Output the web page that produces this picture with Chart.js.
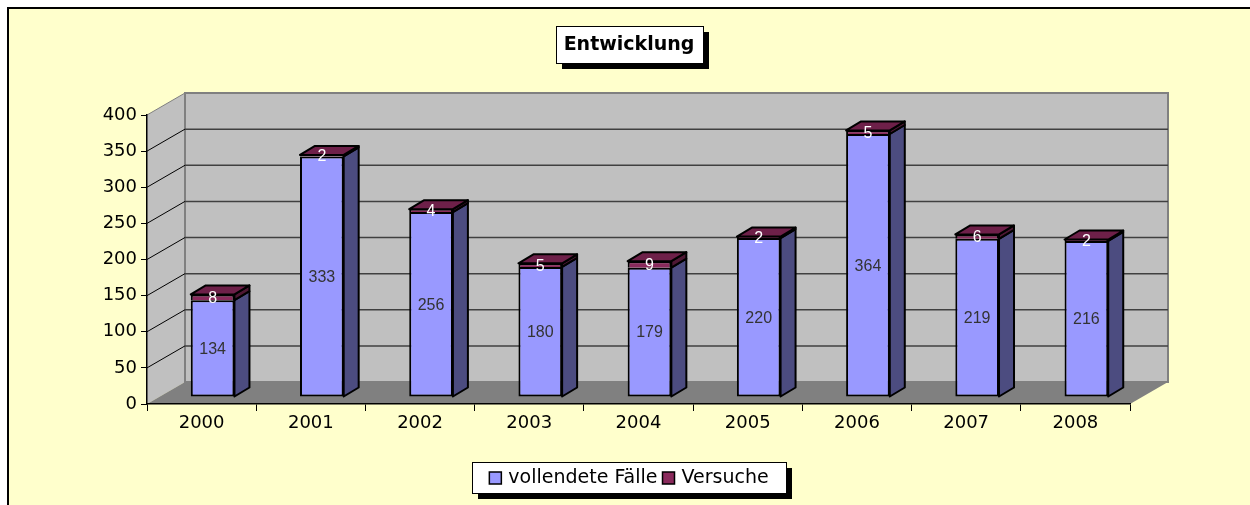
<!DOCTYPE html>
<html>
<head>
<meta charset="utf-8">
<script src="https://cdn.jsdelivr.net/npm/chart.js@4.4.1/dist/chart.umd.min.js"></script>
<style>
  html, body { margin: 0; padding: 0; background: #fff; }
</style>
</head>
<body>
<canvas id="chart" width="1250" height="505"></canvas>
<script>
// data
const years = ['2000', '2001', '2002', '2003', '2004', '2005', '2006', '2007', '2008'];
const completed = [134, 333, 256, 180, 179, 220, 364, 219, 216];
const attempts = [8, 2, 4, 5, 9, 2, 5, 6, 2];
const yTicks = [0, 50, 100, 150, 200, 250, 300, 350, 400];
const seriesNames = ['vollendete Fälle', 'Versuche'];
const chartTitle = 'Entwicklung';

// colours of the faces (front, side, top) per series
const faces = [
  { front: '#9999ff', side: '#4c4c80', top: '#7a7ad0', label: '#333333' },
  { front: '#8a2a5c', side: '#4e1834', top: '#6e2049', label: '#ffffff' },
];

const WALL = { dx: 38, dy: -22 };   // depth of the back wall
const SHIFT = { dx: 11, dy: -7 };   // bars sit half way into the box
const DEPTH = { dx: 15, dy: -9 };   // depth of one bar

const excel3d = {
  id: 'excel3d',
  beforeDraw(chart) {
    const ctx = chart.ctx;
    const { left, right, top, bottom } = chart.chartArea;
    const y = chart.scales.y;
    ctx.save();
    ctx.fillStyle = '#ffffff';
    ctx.fillRect(0, 0, chart.width, chart.height);
    ctx.fillStyle = '#ffffcc';
    ctx.fillRect(8, 8, chart.width - 8, chart.height - 8);
    ctx.strokeStyle = '#000';
    ctx.lineWidth = 2;
    ctx.beginPath();
    ctx.moveTo(8, chart.height);
    ctx.lineTo(8, 8);
    ctx.lineTo(chart.width, 8);
    ctx.stroke();

    // side wall
    ctx.fillStyle = '#c0c0c0';
    ctx.beginPath();
    ctx.moveTo(left, top);
    ctx.lineTo(left + WALL.dx, top + WALL.dy);
    ctx.lineTo(left + WALL.dx, bottom + WALL.dy);
    ctx.lineTo(left, bottom);
    ctx.closePath();
    ctx.fill();
    // back wall
    ctx.fillRect(left + WALL.dx, top + WALL.dy, right - left, bottom - top);
    ctx.strokeStyle = '#808080';
    ctx.lineWidth = 2;
    ctx.strokeRect(left + WALL.dx, top + WALL.dy, right - left, bottom - top);
    // floor
    ctx.fillStyle = '#808080';
    ctx.beginPath();
    ctx.moveTo(left, bottom);
    ctx.lineTo(left + WALL.dx, bottom + WALL.dy);
    ctx.lineTo(right + WALL.dx, bottom + WALL.dy);
    ctx.lineTo(right, bottom);
    ctx.closePath();
    ctx.fill();
    ctx.strokeStyle = '#808080';
    ctx.lineWidth = 1;
    ctx.beginPath();
    ctx.moveTo(left, top);
    ctx.lineTo(left + WALL.dx, top + WALL.dy);
    ctx.stroke();

    // gridlines on side and back walls
    yTicks.forEach(v => {
      if (v === 0 || v === 400) return;
      const py = y.getPixelForValue(v);
      ctx.strokeStyle = '#000';
      ctx.lineWidth = 1;
      ctx.beginPath();
      ctx.moveTo(left, py);
      ctx.lineTo(left + WALL.dx, py + WALL.dy);
      ctx.stroke();
      ctx.strokeStyle = '#404040';
      ctx.lineWidth = 1.5;
      ctx.beginPath();
      ctx.moveTo(left + WALL.dx, py + WALL.dy);
      ctx.lineTo(right + WALL.dx, py + WALL.dy);
      ctx.stroke();
    });
    ctx.restore();
  },
  beforeDatasetsDraw(chart) {
    chart.ctx.save();
    chart.ctx.translate(SHIFT.dx, SHIFT.dy);
  },
  afterDatasetsDraw(chart) {
    const ctx = chart.ctx;
    const metas = chart.data.datasets.map((d, i) => chart.getDatasetMeta(i));
    years.forEach((yr, idx) => {
      metas.forEach((meta, di) => {
        const bar = meta.data[idx];
        const l = bar.x - bar.width / 2, r = bar.x + bar.width / 2;
        const t = Math.min(bar.y, bar.base), b = Math.max(bar.y, bar.base);
        ctx.lineWidth = 2;
        ctx.strokeStyle = '#000';
        ctx.lineJoin = 'round';
        ctx.fillStyle = faces[di].side;
        ctx.beginPath();
        ctx.moveTo(r, t);
        ctx.lineTo(r + DEPTH.dx, t + DEPTH.dy);
        ctx.lineTo(r + DEPTH.dx, b + DEPTH.dy);
        ctx.lineTo(r, b);
        ctx.closePath();
        ctx.fill();
        ctx.stroke();
        if (di === metas.length - 1) {
          ctx.fillStyle = faces[di].top;
          ctx.beginPath();
          ctx.moveTo(l, t);
          ctx.lineTo(l + DEPTH.dx, t + DEPTH.dy);
          ctx.lineTo(r + DEPTH.dx, t + DEPTH.dy);
          ctx.lineTo(r, t);
          ctx.closePath();
          ctx.fill();
          ctx.stroke();
        }
      });
    });
    // value labels
    ctx.font = '16px "Liberation Sans", Arial, sans-serif';
    ctx.textAlign = 'center';
    ctx.textBaseline = 'middle';
    metas.forEach((meta, di) => {
      const values = chart.data.datasets[di].data;
      meta.data.forEach((bar, idx) => {
        ctx.fillStyle = faces[di].label;
        ctx.fillText(String(values[idx]), bar.x, (bar.y + bar.base) / 2 + 1);
      });
    });
    ctx.restore();
  },
  afterDraw(chart) {
    const ctx = chart.ctx;
    const cx = (8 + chart.width) / 2;
    ctx.save();
    // title box
    ctx.font = 'bold 19px "DejaVu Sans", sans-serif';
    const tw = ctx.measureText(chartTitle).width;
    const bx = Math.round(cx - tw / 2 - 8), bw = Math.round(tw + 16);
    ctx.fillStyle = '#000';
    ctx.fillRect(bx + 6, 32, bw, 37);
    ctx.fillStyle = '#fff';
    ctx.fillRect(bx, 26, bw, 37);
    ctx.strokeStyle = '#000';
    ctx.lineWidth = 1;
    ctx.strokeRect(bx + 0.5, 26.5, bw, 37);
    ctx.fillStyle = '#000';
    ctx.textAlign = 'center';
    ctx.textBaseline = 'middle';
    ctx.fillText(chartTitle, cx, 45);

    // legend box
    ctx.font = '19px "DejaVu Sans", sans-serif';
    const sq = 12, gapA = 7, gapB = 5;
    const widths = seriesNames.map(n => ctx.measureText(n).width);
    const inner = widths.reduce((s, w) => s + sq + gapA + w, 0) + gapB;
    const lw = Math.max(314, Math.round(inner + 22)), lx = Math.round(cx - lw / 2), ly = 462, lh = 31;
    ctx.fillStyle = '#000';
    ctx.fillRect(lx + 6, ly + 6, lw, lh);
    ctx.fillStyle = '#fff';
    ctx.fillRect(lx, ly, lw, lh);
    ctx.strokeStyle = '#000';
    ctx.strokeRect(lx + 0.5, ly + 0.5, lw, lh);
    let x = cx - inner / 2;
    ctx.textAlign = 'left';
    seriesNames.forEach((n, i) => {
      ctx.fillStyle = faces[i].front;
      ctx.fillRect(x, 472, sq, sq);
      ctx.strokeStyle = '#000';
      ctx.lineWidth = 1.5;
      ctx.strokeRect(x, 472, sq, sq);
      ctx.fillStyle = '#000';
      ctx.fillText(n, x + sq + gapA, 478);
      x += sq + gapA + widths[i] + gapB;
    });
    ctx.restore();
  }
};

new Chart(document.getElementById('chart'), {
  type: 'bar',
  data: {
    labels: years,
    datasets: [
      { label: seriesNames[0], data: completed, backgroundColor: faces[0].front, borderColor: '#000', borderWidth: 2, borderSkipped: false, clip: false },
      { label: seriesNames[1], data: attempts, backgroundColor: faces[1].front, borderColor: '#000', borderWidth: 2, borderSkipped: 'bottom', clip: false },
    ],
  },
  options: {
    responsive: false,
    animation: false,
    devicePixelRatio: 1,
    layout: { padding: { left: 8, right: 120, top: 115, bottom: 0 } },
    datasets: { bar: { barPercentage: 0.4, categoryPercentage: 1 } },
    plugins: {
      legend: { display: false },
      title: { display: false },
      tooltip: { enabled: false },
    },
    scales: {
      x: {
        stacked: true,
        afterFit: (s) => { s.height = 101; },
        grid: { offset: true, drawOnChartArea: false, drawTicks: true, tickLength: 7, color: '#000', lineWidth: 1 },
        border: { display: true, color: '#000', width: 1.5 },
        ticks: { color: '#000', font: { family: 'DejaVu Sans', size: 18 }, padding: 2 },
      },
      y: {
        stacked: true,
        min: 0,
        max: 400,
        afterFit: (s) => { s.width = 139; },
        afterBuildTicks: (s) => { s.ticks = yTicks.map(v => ({ value: v })); },
        grid: { drawOnChartArea: false, drawTicks: true, tickLength: 6, color: '#000', lineWidth: 1 },
        border: { display: true, color: '#000', width: 1.5 },
        ticks: { color: '#000', font: { family: 'DejaVu Sans', size: 18 }, padding: 4 },
      },
    },
  },
  plugins: [excel3d],
});
</script>
</body>
</html>
